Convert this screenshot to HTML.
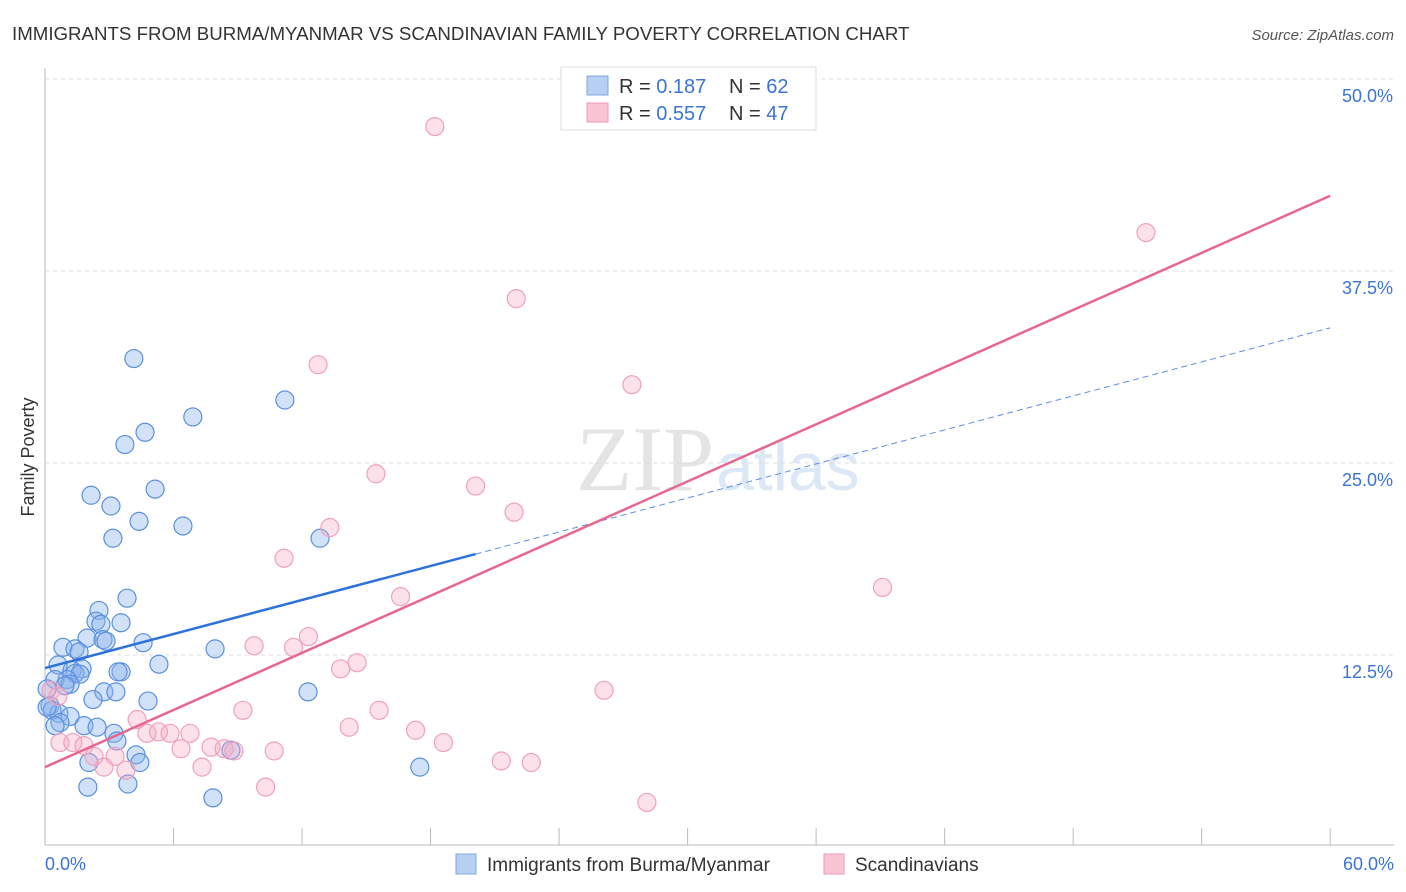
<!DOCTYPE html>
<html><head><meta charset="utf-8">
<style>
body{margin:0;background:#fff;font-family:"Liberation Sans",sans-serif;}
#wrap{position:relative;width:1406px;height:892px;overflow:hidden;}
</style></head>
<body>
<div id="wrap">
<svg id="svg" width="1406" height="892" xmlns="http://www.w3.org/2000/svg">
<text x="12" y="40" font-size="18.7" fill="#333">IMMIGRANTS FROM BURMA/MYANMAR VS SCANDINAVIAN FAMILY POVERTY CORRELATION CHART</text>
<text x="1394" y="40" font-size="15" fill="#555" font-style="italic" text-anchor="end">Source: ZipAtlas.com</text>
<text x="34" y="457" font-size="18" fill="#333" text-anchor="middle" transform="rotate(-90 34 457)">Family Poverty</text>
<text x="714" y="490" font-size="92" fill="#e4e4e4" font-family="Liberation Serif,serif" text-anchor="end">ZIP</text>
<text x="716" y="490" font-size="68" fill="#dce8f6">atlas</text>
<g id="grid"></g><g id="axes"></g><g id="pts"></g><g id="lines"></g>
<g>
<rect x="561" y="67" width="255" height="63" fill="#fff" stroke="#ddd"/>
<rect x="587" y="76" width="21" height="19" fill="#b7cff2" stroke="#7fa8e3"/>
<rect x="587" y="103" width="21" height="19" fill="#f9c4d4" stroke="#f09ab6"/>
<text x="619" y="93" font-size="20" fill="#333">R = <tspan fill="#3a74d6"> 0.187</tspan></text>
<text x="729" y="93" font-size="20" fill="#333">N = <tspan fill="#3a74d6">62</tspan></text>
<text x="619" y="120" font-size="20" fill="#333">R = <tspan fill="#3a74d6">0.557</tspan></text>
<text x="729" y="120" font-size="20" fill="#333">N = <tspan fill="#3a74d6">47</tspan></text>
</g>
<g>
<rect x="456" y="854" width="20" height="20" fill="#b7cff2" stroke="#7fa8e3"/>
<text x="487" y="871" font-size="19" fill="#333">Immigrants from Burma/Myanmar</text>
<rect x="824" y="854" width="20" height="20" fill="#f9c4d4" stroke="#f09ab6"/>
<text x="855" y="871" font-size="19" fill="#333">Scandinavians</text>
</g>
</svg>
</div>
<script>
const blueX=[4.15,11.2,6.9,4.67,3.73,5.14,2.15,3.08,4.39,6.44,3.17,12.84,3.83,2.52,2.38,2.61,3.55,1.96,2.71,2.85,4.58,0.84,1.4,1.59,7.94,5.32,0.61,1.73,1.26,1.4,3.55,3.41,1.63,1.03,0.47,1.17,0.93,2.75,3.31,12.28,2.24,4.81,0.23,0.33,0.65,1.17,0.7,1.82,2.43,0.47,3.22,3.36,4.25,4.43,2.05,17.5,3.87,2.0,7.84,8.68,0.1,0.1];
const blueY=[31.8,29.1,28.0,27.0,26.2,23.3,22.9,22.2,21.2,20.9,20.1,20.1,16.2,15.4,14.7,14.5,14.6,13.6,13.5,13.4,13.3,13.0,12.9,12.7,12.9,11.9,11.85,11.6,11.5,11.3,11.4,11.4,11.25,10.9,10.9,10.6,10.5,10.1,10.1,10.1,9.6,9.5,9.2,8.9,8.7,8.5,8.1,7.9,7.8,7.9,7.4,6.9,6.0,5.5,5.5,5.2,4.1,3.9,3.2,6.3,10.3,9.1];
const pinkX=[18.2,51.4,22.0,12.75,27.4,15.45,20.1,21.9,13.3,11.16,16.6,39.1,12.3,9.76,11.6,14.57,13.8,26.1,0.28,0.6,9.24,15.6,4.3,14.2,17.3,4.76,5.3,5.84,6.77,18.6,0.7,1.3,1.82,6.35,7.75,8.36,8.82,10.7,2.29,3.27,21.3,22.7,7.33,2.75,3.78,10.3,28.1];
const pinkY=[46.9,40.0,35.7,31.4,30.1,24.3,23.5,21.8,20.8,18.8,16.3,16.9,13.7,13.1,13.0,12.0,11.6,10.2,10.2,9.8,8.9,8.9,8.3,7.8,7.6,7.4,7.5,7.4,7.4,6.8,6.8,6.8,6.6,6.4,6.5,6.4,6.25,6.25,5.9,5.9,5.6,5.5,5.2,5.2,5.0,3.9,2.9];
const yTicks=[12.5,25.0,37.5,50.0];
const xTicks=[0,6,12,18,24,30,36,42,48,54,60];
const blueTrend=[11.65,33.8]; const blueSolidEnd=20.1;
const pinkTrend=[5.2,42.4];
const NS='http://www.w3.org/2000/svg';
const X=v=>45+v*21.42, Y=v=>847-v*15.36;
function mk(tag,attrs,parent){const e=document.createElementNS(NS,tag);for(const k in attrs)e.setAttribute(k,attrs[k]);document.getElementById(parent).appendChild(e);return e;}
yTicks.forEach(t=>{
 const l=mk('line',{x1:45,x2:1394,y1:Y(t),y2:Y(t),stroke:'#ddd','stroke-dasharray':'4,4'},'grid');
 
 
 const tx=mk('text',{x:1393,y:Y(t)+23,'font-size':18,fill:'#3a74d6','text-anchor':'end'},'grid');
 tx.textContent=t.toFixed(1)+'%';
 
 
});
mk('line',{x1:45,x2:45,y1:68,y2:845,stroke:'#bbb'},'axes');
mk('line',{x1:45,x2:1394,y1:845,y2:845,stroke:'#bbb'},'axes');
xTicks.forEach(t=>{const l=mk('line',{x1:X(t),x2:X(t),y1:828,y2:845,stroke:'#bbb'},'axes');
 
 });
const x0=mk('text',{x:45,y:870,'font-size':18,fill:'#3a74d6'},'axes');x0.textContent='0.0%';


const x1=mk('text',{x:1394,y:870,'font-size':18,fill:'#3a74d6','text-anchor':'end'},'axes');x1.textContent='60.0%';


blueX.forEach((v,i)=>{const c=mk('circle',{cx:X(v),cy:Y(blueY[i]),r:9,fill:'rgba(140,180,235,0.4)',stroke:'#5a90de','stroke-width':1.2},'pts');
 
 });
pinkX.forEach((v,i)=>{const c=mk('circle',{cx:X(v),cy:Y(pinkY[i]),r:9,fill:'rgba(245,170,195,0.35)',stroke:'#f0a0bc','stroke-width':1.2},'pts');
 
 });
const bAt=x=>blueTrend[0]+(blueTrend[1]-blueTrend[0])*x/60;
let l1=mk('line',{x1:X(0),y1:Y(bAt(0)),x2:X(blueSolidEnd),y2:Y(bAt(blueSolidEnd)),stroke:'#2d72d9','stroke-width':2.5},'lines');


let l2=mk('line',{x1:X(blueSolidEnd),y1:Y(bAt(blueSolidEnd)),x2:X(60),y2:Y(bAt(60)),stroke:'#5a90de','stroke-width':1,'stroke-dasharray':'6,4'},'lines');


let l3=mk('line',{x1:X(0),y1:Y(pinkTrend[0]),x2:X(60),y2:Y(pinkTrend[1]),stroke:'#e8678f','stroke-width':2.5},'lines');


</script>
</body></html>
